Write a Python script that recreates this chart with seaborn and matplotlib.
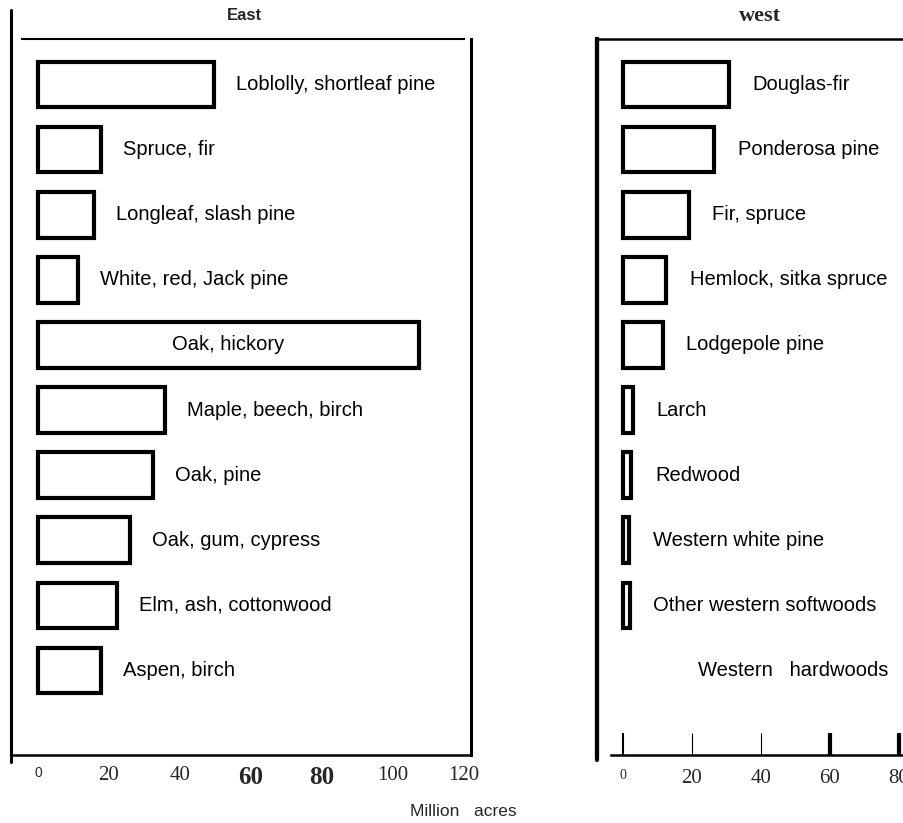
import numpy as np
import pandas as pd
import matplotlib
matplotlib.use("Agg")
import matplotlib.pyplot as plt
import seaborn as sns

# --- data: forest type areas, million acres ---
east_types = ["Loblolly, shortleaf pine", "Spruce, fir", "Longleaf, slash pine",
              "White, red, Jack pine", "Oak, hickory", "Maple, beech, birch",
              "Oak, pine", "Oak, gum, cypress", "Elm, ash, cottonwood", "Aspen, birch"]
east_acres = [49.5, 17.7, 15.8, 11.3, 107.3, 35.8, 32.4, 25.9, 22.3, 17.7]

west_types = ["Douglas-fir", "Ponderosa pine", "Fir, spruce", "Hemlock, sitka spruce",
              "Lodgepole pine", "Larch", "Redwood", "Western white pine",
              "Other western softwoods", "Western   hardwoods"]
west_acres = [30.7, 26.4, 19.1, 12.5, 11.6, 3.0, 2.5, 1.8, 2.0, np.nan]

east_ticks = [0, 20, 40, 60, 80, 100, 120]
west_ticks = [0, 20, 40, 60, 80]

sns.set_style("white")
plt.rcParams['font.family'] = ['Liberation Sans', 'DejaVu Sans']

fig = plt.figure(figsize=(9.04, 8.23), dpi=100)
ax1 = fig.add_axes([11 / 904, 1 - 755 / 823, 460 / 904, 716 / 823])
ax2 = fig.add_axes([597 / 904, 1 - 755 / 823, 356 / 904, 716 / 823])

east_df = pd.DataFrame({"type": east_types, "acres": east_acres})
west_df = pd.DataFrame({"type": west_types, "acres": west_acres})

for ax, df in [(ax1, east_df), (ax2, west_df)]:
    sns.barplot(data=df, x="acres", y="type", order=list(df["type"]), orient="h",
                color="white", edgecolor="black", linewidth=3, width=0.7,
                saturation=1, ax=ax)
    ax.set_ylim(10.3, -0.7)
    ax.set_yticks([])
    ax.set_xlabel("")
    ax.set_ylabel("")
    for sp in ax.spines.values():
        sp.set_color("black")

label_kw = dict(fontsize=14.5, va="center", color="black")

# East labels
for i, (name, val) in enumerate(zip(east_types, east_acres)):
    if val > 100:
        ax1.text(val / 2, i, name, ha="center", **label_kw)
    else:
        ax1.annotate(name, xy=(val, i), xytext=(16, 0), textcoords="offset points",
                     ha="left", **label_kw)

# West labels
for i, (name, val) in enumerate(zip(west_types, west_acres)):
    if np.isnan(val):
        ax2.annotate(name, xy=(0, i), xytext=(54, 0), textcoords="offset points",
                     ha="left", **label_kw)
    else:
        ax2.annotate(name, xy=(val, i), xytext=(17, 0), textcoords="offset points",
                     ha="left", **label_kw)

# East frame
ax1.set_xlim(-7.6, 122.0)
for side in ["left", "right"]:
    ax1.spines[side].set_linewidth(2.2)
ax1.spines["top"].set_linewidth(1.5)
ax1.spines["bottom"].set_linewidth(1.8)
ax1.spines["top"].set_bounds(-4.5, 120)
ax1.plot([0, 0], [-0.01, 1.04], transform=ax1.transAxes, color="black",
         lw=2.2, clip_on=False)
ax1.set_xticks(east_ticks)
ax1.set_xticklabels(["0"] + [str(t) for t in east_ticks[1:]])
ax1.tick_params(axis="x", bottom=True, length=0, pad=8)
for t, lab in zip(east_ticks, ax1.get_xticklabels()):
    lab.set_family("Liberation Serif")
    if t == 0:
        lab.set_family("Liberation Sans")
        lab.set_fontsize(10)
    elif t in (60, 80):
        lab.set_fontweight("bold")
        lab.set_fontsize(18)
    else:
        lab.set_fontsize(15)
ax1.set_title("East", fontsize=12, fontweight="bold", x=0.507, pad=14)

# West frame
ax2.set_xlim(-7.5, 95.7)
ax2.spines["right"].set_visible(False)
ax2.spines["left"].set_linewidth(3)
ax2.spines["top"].set_linewidth(1.8)
ax2.spines["bottom"].set_linewidth(1.8)
ax2.spines["bottom"].set_bounds(-3.5, 95.7)
ax2.plot([0, 0], [-0.007, 1.0], transform=ax2.transAxes, color="black",
         lw=3, clip_on=False)
ax2.set_xticks(west_ticks)
ax2.set_xticklabels(["0"] + [str(t) for t in west_ticks[1:]])
ax2.tick_params(axis="x", bottom=True, direction="in", length=16, pad=10, color="black")
tick_widths = [1.5, 0.8, 0.8, 3, 3]
for tk, w in zip(ax2.xaxis.get_major_ticks(), tick_widths):
    tk.tick1line.set_markeredgewidth(w)
for t, lab in zip(west_ticks, ax2.get_xticklabels()):
    lab.set_family("Liberation Serif")
    lab.set_fontsize(10 if t == 0 else 15)
ax2.set_title("west", fontsize=16, fontweight="bold", family="Liberation Serif",
              x=0.458, pad=13)

fig.text(463 / 904, 1 - 812 / 823, "Million   acres", ha="center", va="center", fontsize=12.5)

fig.savefig("out.png", dpi=100)
